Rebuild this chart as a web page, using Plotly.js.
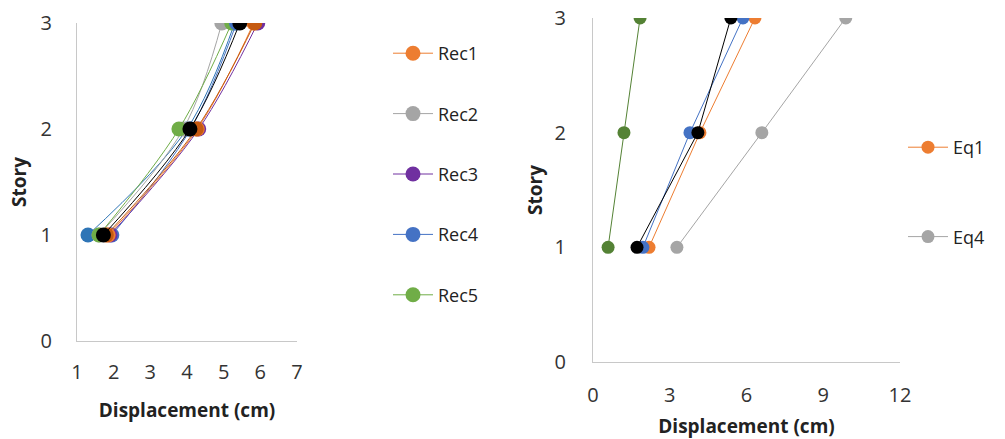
<!DOCTYPE html>
<html><head><meta charset="utf-8">
<script src="https://cdn.plot.ly/plotly-3.0.1.min.js"></script>
<style>html,body{margin:0;padding:0;background:#fff}#c{width:1005px;height:439px}</style>
</head><body><div id="c"></div>
<script>
const stories = [1, 2, 3];
// Left chart (Rec records)
const rec1 = [1.85, 4.28, 5.82];
const rec2 = [1.60, 3.90, 4.95];
const rec3 = [1.90, 4.32, 5.93];
const rec4 = [1.95, 4.10, 5.35];
const rec5 = [1.60, 3.78, 5.22];
const recDarkBlue = [1.30, 4.00, 5.30];
const recDarkOrange = [1.80, 4.25, 5.85];
const recMean = [1.72, 4.08, 5.44];
// Right chart (Eq)
const eq1 = [2.19, 4.18, 6.33];
const eqBlue = [1.95, 3.79, 5.86];
const eqGreen = [0.59, 1.21, 1.84];
const eq4 = [3.28, 6.60, 9.88];
const eqBlack = [1.72, 4.10, 5.39];

const C = {orange:'#ED7D31', gray:'#A5A5A5', purple:'#7030A0', blue:'#4472C4', green:'#70AD47', dgreen:'#548235', dblue:'#2E75B6', dorange:'#C55A11', black:'#000000'};

function tr(x, name, color, ax, opts) {
  opts = opts || {};
  return {
    x: x, y: stories, name: name, type: 'scatter', mode: 'lines+markers',
    xaxis: ax === 2 ? 'x2' : 'x', yaxis: ax === 2 ? 'y2' : 'y',
    line: {color: color, width: 1, shape: ax === 2 ? 'linear' : 'spline'},
    marker: {color: color, size: opts.size || 15},
    showlegend: opts.legend !== undefined ? opts.legend : true,
    legend: ax === 2 ? 'legend2' : 'legend',
    legendgroup: name
  };
}

const data = [
  tr(recDarkBlue, 'RecA', C.dblue, 1, {legend:false}),
  tr(rec2, 'Rec2', C.gray, 1),
  tr(rec5, 'Rec5', C.green, 1),
  tr(rec4, 'Rec4', C.blue, 1),
  tr(rec3, 'Rec3', C.purple, 1),
  tr(rec1, 'Rec1', C.orange, 1),
  tr(recDarkOrange, 'RecB', C.dorange, 1, {legend:false}),
  tr(recMean, 'Mean', C.black, 1, {legend:false}),
  tr(eqGreen, 'EqG', C.dgreen, 2, {legend:false, size:13}),
  tr(eq4, 'Eq4', C.gray, 2, {size:13}),
  tr(eq1, 'Eq1', C.orange, 2, {size:13}),
  tr(eqBlue, 'EqB', C.blue, 2, {legend:false, size:13}),
  tr(eqBlack, 'EqK', C.black, 2, {legend:false, size:13})
];

const FAM = '"Open Sans", Lato, sans-serif';
const font = {family: FAM, color: '#222', size: 18};
const axBase = {showgrid: false, zeroline: false, showline: true, linecolor: '#C8C8C8', linewidth: 1,
  ticks: '', tickfont: {family: FAM, size: 20, color: '#333'}, automargin: false, fixedrange: true};
const titleFont = {family: FAM, size: 19, color: '#222'};

const layout = {
  width: 1005, height: 439, margin: {l:0, r:0, t:0, b:0},
  paper_bgcolor: '#fff', plot_bgcolor: '#fff', font: font,
  xaxis: Object.assign({}, axBase, {domain: [77/1005, 297/1005], range: [1, 7], dtick: 1, anchor: 'y',
    ticklabelstandoff: 13,
    title: {text: '<b>Displacement (cm)</b>', font: titleFont, standoff: 19}}),
  yaxis: Object.assign({}, axBase, {domain: [98/439, 416/439], range: [0, 3], dtick: 1, anchor: 'x',
    ticklabelstandoff: 20,
    title: {text: '<b>Story</b>', font: titleFont, standoff: 8}}),
  xaxis2: Object.assign({}, axBase, {domain: [593/1005, 900/1005], range: [0, 12], dtick: 3, anchor: 'y2',
    ticklabelstandoff: 15,
    title: {text: '<b>Displacement (cm)</b>', font: titleFont, standoff: 14}}),
  yaxis2: Object.assign({}, axBase, {domain: [77/439, 421/439], range: [0, 3], dtick: 1, anchor: 'x2',
    ticklabelstandoff: 22,
    title: {text: '<b>Story</b>', font: titleFont, standoff: 6}}),
  legend: {x: 388/1005, y: 1 - 35/439, xanchor: 'left', yanchor: 'top', traceorder: 'grouped',
    tracegroupgap: 34, font: {family: FAM, size: 18, color: '#222'}, bgcolor: 'rgba(0,0,0,0)', itemwidth: 40},
  legend2: {x: 903/1005, y: 1 - 129/439, xanchor: 'left', yanchor: 'top', traceorder: 'grouped',
    tracegroupgap: 63, font: {family: FAM, size: 18, color: '#222'}, bgcolor: 'rgba(0,0,0,0)', itemwidth: 40}
};

const order = {Rec1:1, Rec2:2, Rec3:3, Rec4:4, Rec5:5, Eq1:1, Eq4:2};
data.forEach(d => { if (order[d.name]) d.legendrank = order[d.name]; });

Plotly.newPlot('c', data, layout, {displayModeBar: false, staticPlot: true});
</script>
</body></html>
